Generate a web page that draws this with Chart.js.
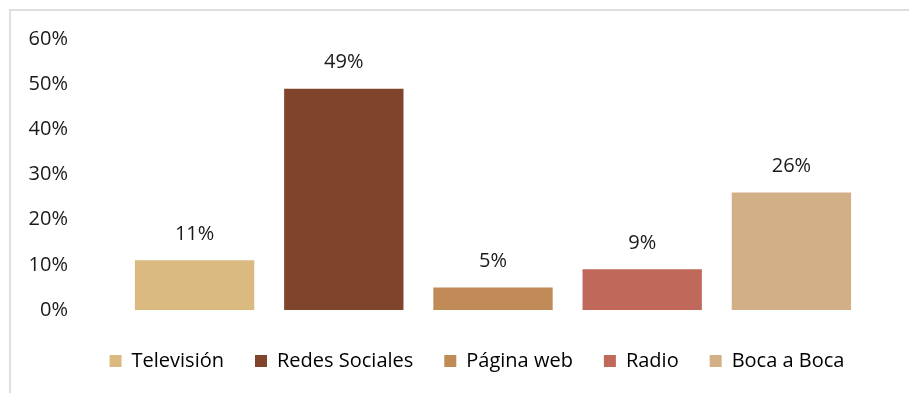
<!DOCTYPE html>
<html lang="es">
<head>
<meta charset="utf-8">
<title>Medios</title>
<script src="https://cdn.jsdelivr.net/npm/chart.js@4.4.1/dist/chart.umd.min.js"></script>
<style>
    html, body { margin: 0; padding: 0; background: #fff; overflow: hidden; }
    #contenedor { position: relative; width: 909px; height: 393px; }
    #marco {
        position: absolute; left: 9px; top: 9px; width: 1000px; height: 500px;
        border: 2px solid #dedede; box-sizing: border-box;
    }
    #grafico { position: absolute; left: 0; top: 0; }
</style>
</head>
<body>
<div id="contenedor">
    <div id="marco"></div>
    <canvas id="grafico" width="909" height="393"></canvas>
</div>
<script>
// Datos del gráfico
const categorias = ['Televisión', 'Redes Sociales', 'Página web', 'Radio', 'Boca a Boca'];
const porcentajes = [11, 49, 5, 9, 26];
const colores = ['#DABA81', '#80442C', '#C18B58', '#C0695A', '#D3AF88'];
const ticksY = [0, 10, 20, 30, 40, 50, 60];

const fuente = '"Open Sans", "Noto Sans", sans-serif';
const colorTexto = '#1a1a1a';
const tamTexto = 20;

// Etiquetas de porcentaje encima de cada barra
const etiquetasBarras = {
    id: 'etiquetasBarras',
    afterDatasetsDraw(chart) {
        const ctx = chart.ctx;
        const meta = chart.getDatasetMeta(0);
        ctx.save();
        ctx.font = tamTexto + 'px ' + fuente;
        ctx.fillStyle = colorTexto;
        ctx.textAlign = 'center';
        ctx.textBaseline = 'middle';
        meta.data.forEach((barra, i) => {
            ctx.fillText(porcentajes[i] + '%', barra.x, barra.y - 26);
        });
        ctx.restore();
    }
};

// Leyenda: altura fija y desplazada a la derecha
const ajusteLeyenda = {
    id: 'ajusteLeyenda',
    beforeInit(chart) {
        const fitOriginal = chart.legend.fit;
        chart.legend.fit = function () {
            fitOriginal.call(this);
            this.height = 73;
        };
    },
    afterLayout(chart) {
        chart.legend.left += 34;
        chart.legend.right += 34;
    }
};

new Chart(document.getElementById('grafico'), {
    type: 'bar',
    data: {
        labels: categorias,
        datasets: [{
            data: porcentajes,
            backgroundColor: colores,
            borderWidth: 0,
            barPercentage: 0.8,
            categoryPercentage: 1
        }]
    },
    options: {
        responsive: false,
        animation: false,
        layout: {
            padding: { top: 39, left: 20, right: 43, bottom: 0 }
        },
        plugins: {
            tooltip: { enabled: false },
            legend: {
                position: 'bottom',
                labels: {
                    boxWidth: 12,
                    boxHeight: 12,
                    padding: 31,
                    color: colorTexto,
                    font: { family: fuente, size: tamTexto },
                    generateLabels: function (chart) {
                        return categorias.map((nombre, i) => ({
                            text: nombre,
                            fillStyle: colores[i],
                            strokeStyle: colores[i],
                            lineWidth: 0,
                            hidden: false,
                            index: i
                        }));
                    }
                }
            }
        },
        scales: {
            x: {
                grid: { display: false, drawTicks: false },
                border: { display: false },
                ticks: { display: false },
                afterFit: function (scale) { scale.height = 10; }
            },
            y: {
                min: 0,
                max: 60,
                grid: { display: false, drawTicks: false },
                border: { display: false },
                afterBuildTicks: function (scale) {
                    scale.ticks = ticksY.map(v => ({ value: v }));
                },
                ticks: {
                    padding: 52,
                    color: colorTexto,
                    font: { family: fuente, size: tamTexto },
                    callback: v => v + '%'
                },
                afterFit: function (scale) {
                    scale.width = 100;
                    scale.paddingTop = 0;
                    scale.paddingBottom = 0;
                }
            }
        }
    },
    plugins: [etiquetasBarras, ajusteLeyenda]
});
</script>
</body>
</html>
